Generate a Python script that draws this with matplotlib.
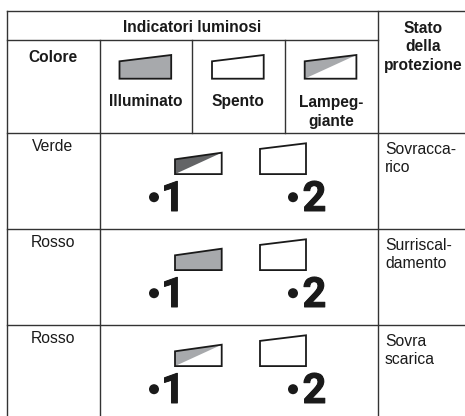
import matplotlib
matplotlib.use("Agg")
import matplotlib.pyplot as plt
from matplotlib.patches import Polygon, Circle
import matplotlib.patheffects as pe

plt.rcParams['font.family'] = ['Liberation Sans', 'DejaVu Sans']

# table grid in pixels
col_x = [7, 100, 192, 284.5, 377.5]
row_y = [11, 40, 132.5, 228.5, 324.5]
W, H = 465, 416
LINE = '#333333'
INK = '#1a1a1a'

header_title = "Indicatori luminosi"
state_title = "Stato\ndella\nprotezione"
colour_title = "Colore"
states = ["Illuminato", "Spento", "Lampeg-\ngiante"]
state_kinds = ["full", "empty", "half"]
colours = ["Verde", "Rosso", "Rosso"]
protections = ["Sovracca-\nrico", "Surriscal-\ndamento", "Sovra\nscarica"]
row_kinds = ["half_dark", "full", "half"]

fig = plt.figure(figsize=(W / 100, H / 100), dpi=100)
ax = fig.add_axes([0, 0, 1, 1])
ax.set_xlim(0, W)
ax.set_ylim(H, 0)
ax.axis('off')


def lamp(x0, x1, top_l, top_r, bottom, kind):
    pts = [(x0, top_l), (x1, top_r), (x1, bottom), (x0, bottom)]
    if kind == "full":
        ax.add_patch(Polygon(pts, closed=True, fc='#a7a9ac', ec='none'))
    elif kind == "half":
        ax.add_patch(Polygon(pts[:2] + [pts[3]], closed=True, fc='#a7a9ac', ec='none'))
    elif kind == "half_dark":
        ax.add_patch(Polygon(pts[:2] + [pts[3]], closed=True, fc='#636466', ec='none'))
    ax.add_patch(Polygon(pts, closed=True, fc='none', ec=INK, lw=1.3, joinstyle='miter'))


# grid lines
ax.plot([col_x[0], W], [row_y[0], row_y[0]], color=LINE, lw=1.0)
ax.plot([col_x[0], col_x[4]], [row_y[1], row_y[1]], color=LINE, lw=1.0)
for y in row_y[2:]:
    ax.plot([col_x[0], W], [y, y], color=LINE, lw=1.0)
ax.plot([col_x[0], col_x[0]], [row_y[0], H], color=LINE, lw=1.0)
ax.plot([col_x[1], col_x[1]], [row_y[1], H], color=LINE, lw=1.0)
ax.plot([col_x[2], col_x[2]], [row_y[1], row_y[2]], color=LINE, lw=1.0)
ax.plot([col_x[3], col_x[3]], [row_y[1], row_y[2]], color=LINE, lw=1.0)
ax.plot([col_x[4], col_x[4]], [row_y[0], H], color=LINE, lw=1.0)

# header
bold = dict(fontsize=11.2, fontweight='bold', color=INK, ha='center', linespacing=1.28)
ax.text(192, 27.3, header_title, va='center', **bold)
ax.text(423.5, 21, state_title, va='top', **bold)
ax.text(53, 57, colour_title, va='center', **bold)

for i, name in enumerate(states):
    x0 = [119.5, 212, 304.7][i]
    lamp(x0, x0 + 51.7, 61.3, 55, 78.7, state_kinds[i])
    cx = (col_x[i + 1] + col_x[i + 2]) / 2
    if i < 2:
        ax.text(cx, 106, name, va='baseline', **bold)
    else:
        ax.text(cx, 95.5, name, va='top', **bold)

# rows
plain = dict(fontsize=11.3, color=INK, linespacing=1.28)
for i in range(3):
    y = row_y[i + 2]
    ax.text(53, y + 14, colours[i], ha='center', va='center', **plain)
    ax.text(385, y + 9.5, protections[i], ha='left', va='top', **plain)
    lamp(175, 221.7, y + 26.8, y + 20.2, y + 41.6, row_kinds[i])
    lamp(260, 306, y + 16.4, y + 10.8, y + 41.6, "empty")
    ax.add_patch(Circle((154, y + 64.7), 5, fc=INK, ec='none'))
    ax.add_patch(Circle((293, y + 64.7), 5, fc=INK, ec='none'))
    for label, cx in [("1", 173), ("2", 314.5)]:
        ax.text(cx, y + 78.5, label, fontsize=30, fontweight='bold', family='Roboto',
                color=INK, ha='center', va='baseline',
                path_effects=[pe.withStroke(linewidth=0.7, foreground=INK)])

fig.savefig('out.png', dpi=100, facecolor='white')
